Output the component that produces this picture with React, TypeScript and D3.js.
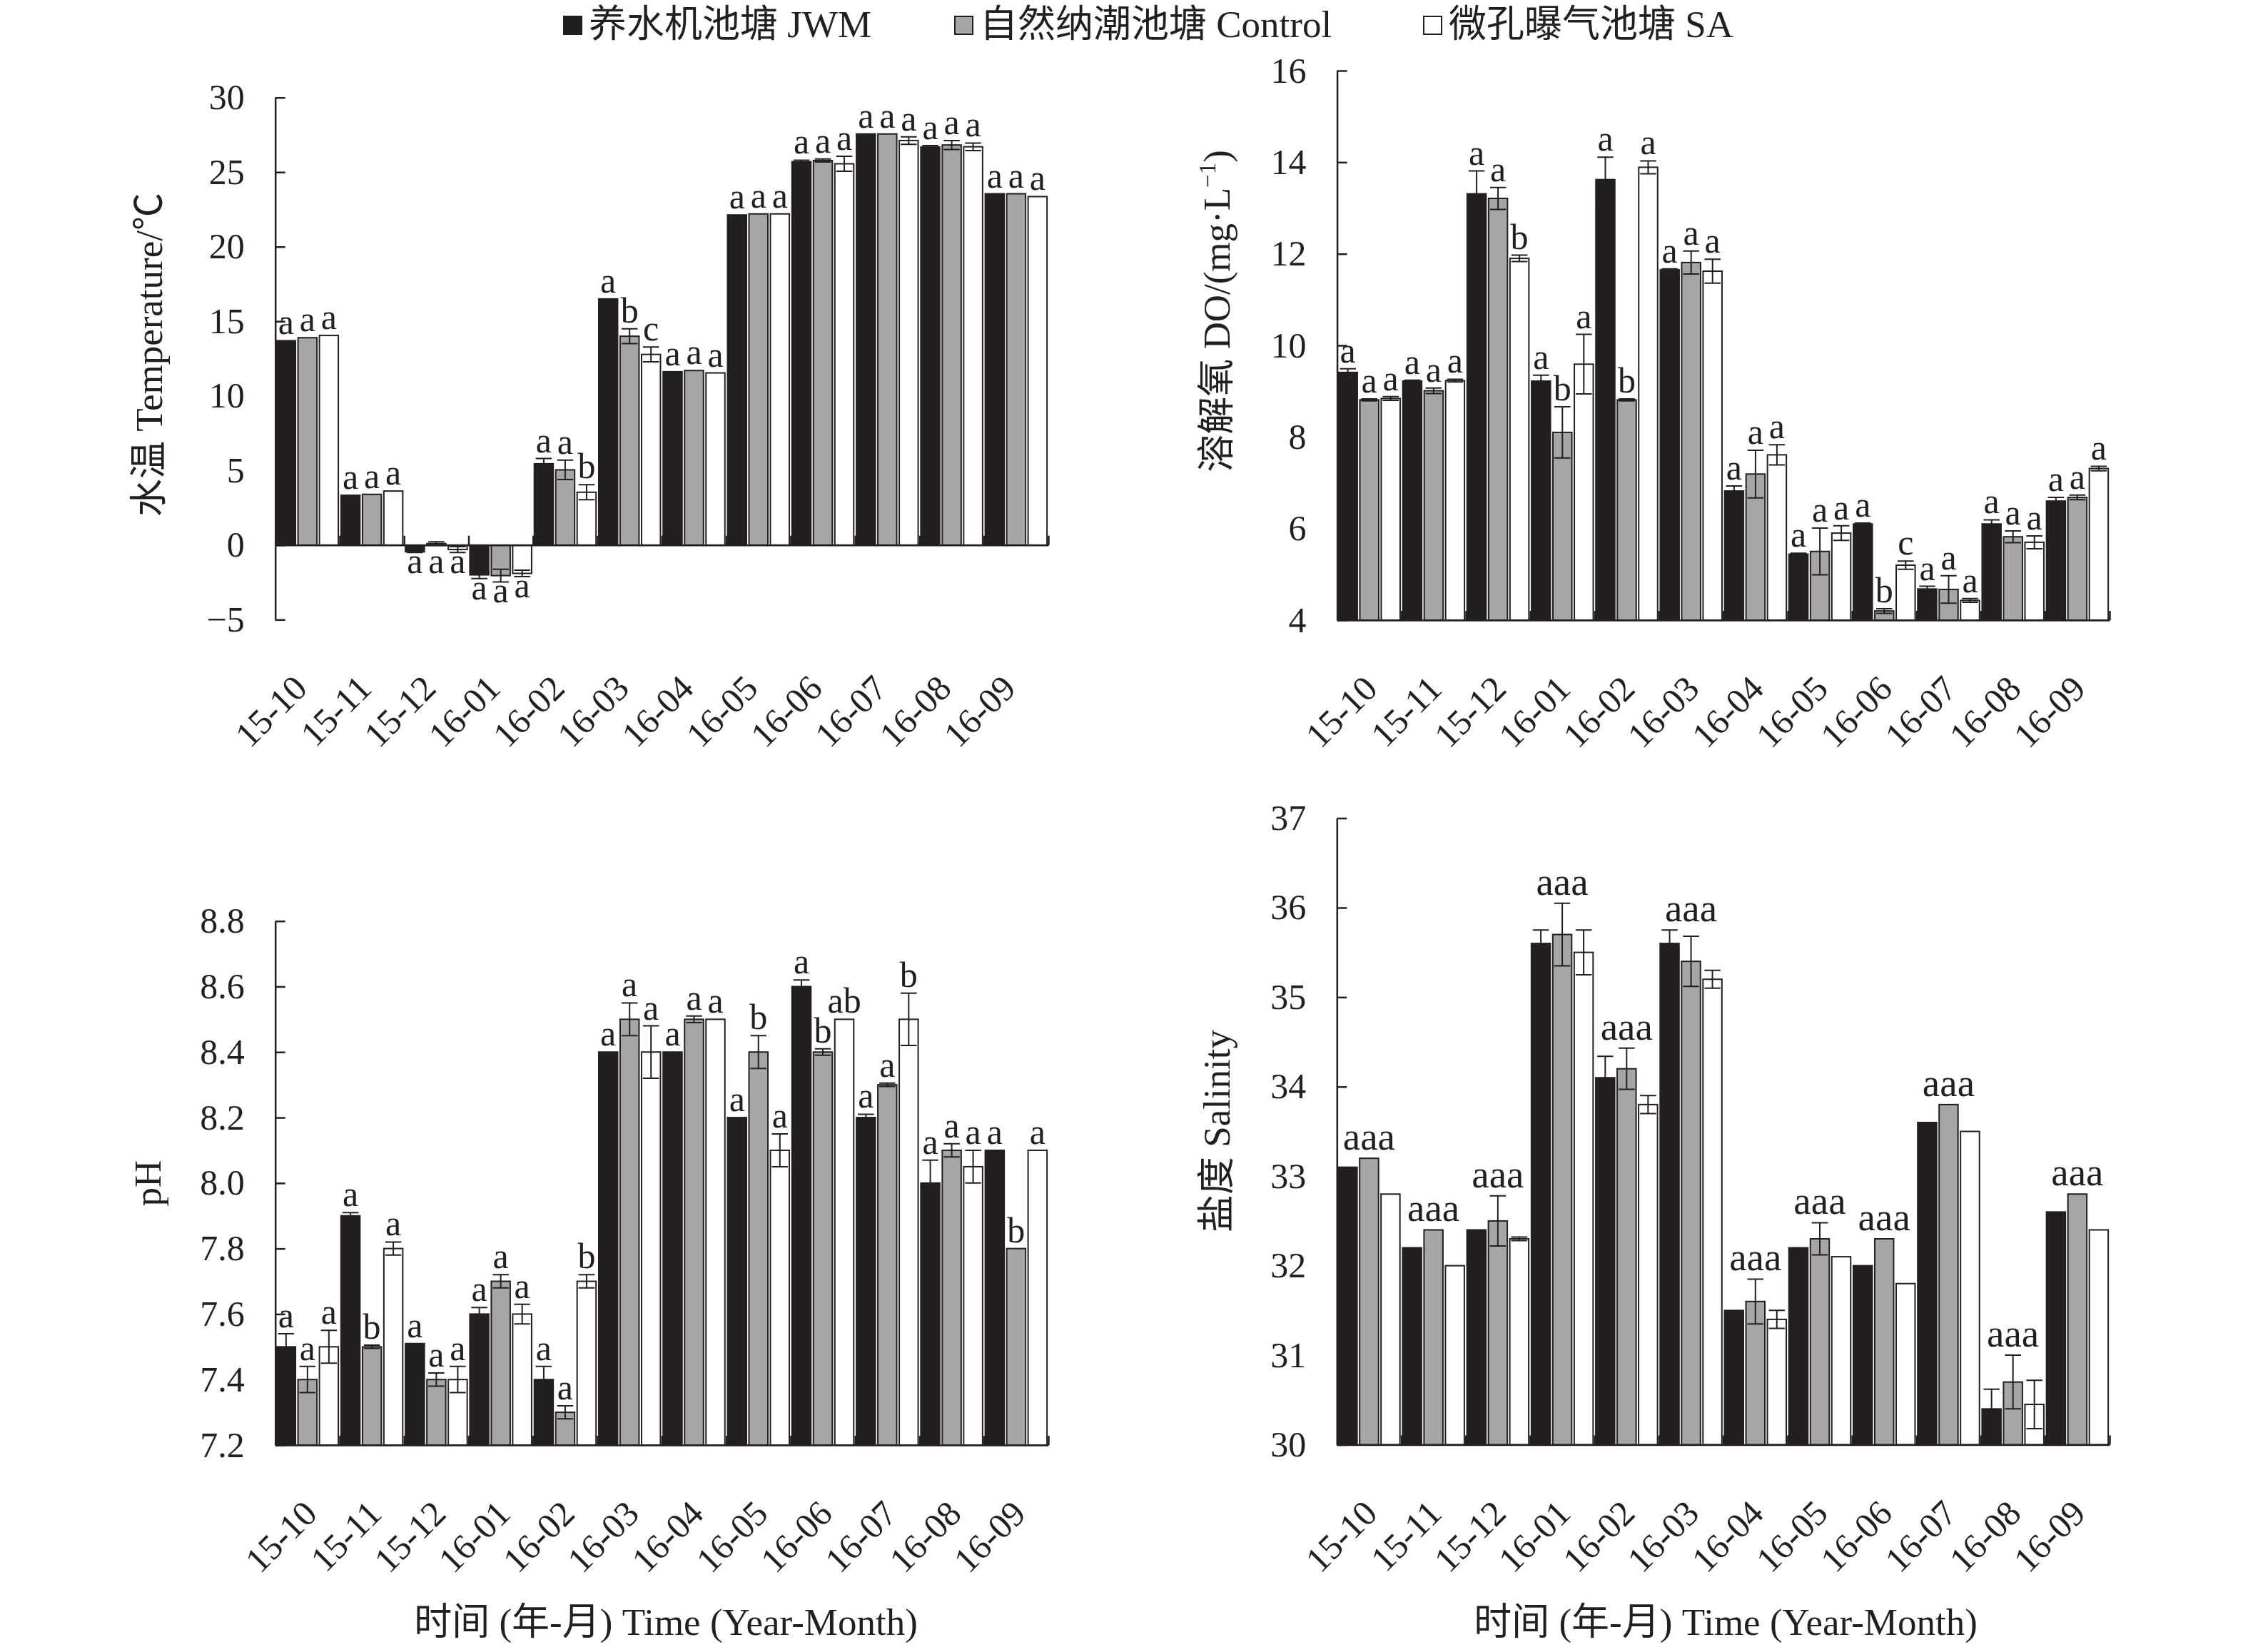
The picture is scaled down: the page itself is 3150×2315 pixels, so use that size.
import React, { useEffect, useRef } from 'react';
import * as d3 from 'd3';

const W = 3150;
const H = 2315;
const INK = '#231f20';
const FONT = "'Liberation Serif', 'Times New Roman', 'Noto Sans CJK SC', serif";

const MONTHS = ['15-10', '15-11', '15-12', '16-01', '16-02', '16-03', '16-04', '16-05', '16-06', '16-07', '16-08', '16-09'];
const SERIES = ['养水机池塘 JWM', '自然纳潮池塘 Control', '微孔曝气池塘 SA'];
const COLORS = ['#231f20', '#a7a5a6', '#ffffff'];

// water temperature (°C)
const tempJWM = [13.7, 3.34, -0.45, -2.0, 5.45, 16.5, 11.62, 22.13, 25.7, 27.56, 26.68, 23.55];
const tempControl = [13.9, 3.4, 0.1, -2.05, 5.04, 14.0, 11.7, 22.2, 25.78, 27.56, 26.82, 23.55];
const tempSA = [14.05, 3.62, -0.3, -1.9, 3.54, 12.78, 11.54, 22.2, 25.56, 27.12, 26.7, 23.36];
const tempErrJWM = [0, 0, 0.05, 0.25, 0.35, 0, 0, 0, 0.1, 0, 0.1, 0];
const tempErrControl = [0, 0, 0.12, 0.42, 0.65, 0.5, 0, 0, 0.1, 0, 0.3, 0];
const tempErrSA = [0, 0, 0.2, 0.22, 0.5, 0.5, 0, 0, 0.5, 0.25, 0.25, 0];
const tempLetJWM = ['a', 'a', 'a', 'a', 'a', 'a', 'a', 'a', 'a', 'a', 'a', 'a'];
const tempLetControl = ['a', 'a', 'a', 'a', 'a', 'b', 'a', 'a', 'a', 'a', 'a', 'a'];
const tempLetSA = ['a', 'a', 'a', 'a', 'b', 'c', 'a', 'a', 'a', 'a', 'a', 'a'];

// dissolved oxygen (mg/L)
const doJWM = [9.41, 9.22, 13.31, 9.22, 13.62, 11.65, 6.82, 5.44, 6.1, 4.68, 6.1, 6.6];
const doControl = [8.81, 9.01, 13.21, 8.1, 8.81, 11.81, 7.19, 5.5, 4.2, 4.67, 5.82, 6.68];
const doSA = [8.84, 9.23, 11.9, 9.59, 13.89, 11.62, 7.61, 5.9, 5.2, 4.43, 5.7, 7.31];
const doErrJWM = [0.08, 0.02, 0.5, 0.13, 0.49, 0.02, 0.11, 0.02, 0.02, 0.06, 0.09, 0.08];
const doErrControl = [0.02, 0.06, 0.24, 0.56, 0.02, 0.25, 0.52, 0.51, 0.05, 0.3, 0.13, 0.05];
const doErrSA = [0.04, 0.03, 0.07, 0.65, 0.14, 0.26, 0.22, 0.16, 0.09, 0.04, 0.14, 0.05];
const doLetJWM = ['a', 'a', 'a', 'a', 'a', 'a', 'a', 'a', 'a', 'a', 'a', 'a'];
const doLetControl = ['a', 'a', 'a', 'b', 'b', 'a', 'a', 'a', 'b', 'a', 'a', 'a'];
const doLetSA = ['a', 'a', 'b', 'a', 'a', 'a', 'a', 'a', 'c', 'a', 'a', 'a'];

// pH
const phJWM = [7.5, 7.9, 7.51, 7.6, 7.4, 8.4, 8.4, 8.2, 8.6, 8.2, 8.0, 8.1];
const phControl = [7.4, 7.5, 7.4, 7.7, 7.3, 8.5, 8.5, 8.4, 8.4, 8.3, 8.1, 7.8];
const phSA = [7.5, 7.8, 7.4, 7.6, 7.7, 8.4, 8.5, 8.1, 8.5, 8.5, 8.05, 8.1];
const phErrJWM = [0.04, 0.01, 0, 0.02, 0.04, 0, 0, 0, 0.02, 0.01, 0.07, 0];
const phErrControl = [0.04, 0.005, 0.02, 0.02, 0.02, 0.05, 0.01, 0.05, 0.01, 0.005, 0.02, 0];
const phErrSA = [0.05, 0.02, 0.04, 0.03, 0.02, 0.08, 0, 0.05, 0, 0.08, 0.05, 0];
const phLetJWM = ['a', 'a', 'a', 'a', 'a', 'a', 'a', 'a', 'a', 'a', 'a', 'a'];
const phLetControl = ['a', 'b', 'a', 'a', 'a', 'a', 'a', 'b', 'b', 'a', 'a', 'b'];
const phLetSA = ['a', 'a', 'a', 'a', 'b', 'a', 'a', 'a', 'ab', 'b', 'a', 'a'];

// salinity
const salJWM = [33.1, 32.2, 32.4, 35.6, 34.1, 35.6, 31.5, 32.2, 32.0, 33.6, 30.4, 32.6];
const salControl = [33.2, 32.4, 32.5, 35.7, 34.2, 35.4, 31.6, 32.3, 32.3, 33.8, 30.7, 32.8];
const salSA = [32.8, 32.0, 32.3, 35.5, 33.8, 35.2, 31.4, 32.1, 31.8, 33.5, 30.45, 32.4];
const salErrJWM = [0, 0, 0, 0.15, 0.24, 0.15, 0, 0, 0, 0, 0.22, 0];
const salErrControl = [0, 0, 0.28, 0.35, 0.23, 0.28, 0.25, 0.18, 0, 0, 0.3, 0];
const salErrSA = [0, 0, 0.02, 0.25, 0.1, 0.1, 0.1, 0, 0, 0, 0.27, 0];
const salLetJWM = ['a', 'a', 'a', 'a', 'a', 'a', 'a', 'a', 'a', 'a', 'a', 'a'];
const salLetControl = ['a', 'a', 'a', 'a', 'a', 'a', 'a', 'a', 'a', 'a', 'a', 'a'];
const salLetSA = ['a', 'a', 'a', 'a', 'a', 'a', 'a', 'a', 'a', 'a', 'a', 'a'];

const tempTicks = [-5, 0, 5, 10, 15, 20, 25, 30];
const doTicks = [4, 6, 8, 10, 12, 14, 16];
const phTicks = [7.2, 7.4, 7.6, 7.8, 8.0, 8.2, 8.4, 8.6, 8.8];
const salTicks = [30, 31, 32, 33, 34, 35, 36, 37];

interface Panel {
  values: number[][];
  errors: number[][];
  letters: string[][];
  ticks: number[];
  fmt: (v: number) => string;
  x0: number;
  x1: number;
  yTop: number;
  yBot: number;
  labelShift: number;
  groupLetters: boolean;
  title: 'temp' | 'do' | 'ph' | 'sal';
  titleX: number;
  titleY: number;
  xTitle?: { x: number; y: number };
}

const panels: Panel[] = [
  {
    values: [tempJWM, tempControl, tempSA],
    errors: [tempErrJWM, tempErrControl, tempErrSA],
    letters: [tempLetJWM, tempLetControl, tempLetSA],
    ticks: tempTicks,
    fmt: d3.format('d'),
    x0: 385.7, x1: 1469, yTop: 136.7, yBot: 868.3,
    labelShift: 2, groupLetters: false,
    title: 'temp', titleX: 227, titleY: 497,
  },
  {
    values: [doJWM, doControl, doSA],
    errors: [doErrJWM, doErrControl, doErrSA],
    letters: [doLetJWM, doLetControl, doLetSA],
    ticks: doTicks,
    fmt: d3.format('d'),
    x0: 1873.6, x1: 2956, yTop: 99, yBot: 869,
    labelShift: 14, groupLetters: false,
    title: 'do', titleX: 1723, titleY: 436,
  },
  {
    values: [phJWM, phControl, phSA],
    errors: [phErrJWM, phErrControl, phErrSA],
    letters: [phLetJWM, phLetControl, phLetSA],
    ticks: phTicks,
    fmt: d3.format('.1f'),
    x0: 385.7, x1: 1469, yTop: 1290.7, yBot: 2025,
    labelShift: 16, groupLetters: false,
    title: 'ph', titleX: 225, titleY: 1658,
    xTitle: { x: 933, y: 2291 },
  },
  {
    values: [salJWM, salControl, salSA],
    errors: [salErrJWM, salErrControl, salErrSA],
    letters: [salLetJWM, salLetControl, salLetSA],
    ticks: salTicks,
    fmt: d3.format('d'),
    x0: 1873.3, x1: 2956, yTop: 1146.5, yBot: 2024.5,
    labelShift: 14, groupLetters: true,
    title: 'sal', titleX: 1723, titleY: 1585,
    xTitle: { x: 2418, y: 2291 },
  },
];

type Sel = d3.Selection<SVGGElement, unknown, null, undefined>;

function drawPanel(g: Sel, p: Panel) {
  const min = p.ticks[0];
  const max = p.ticks[p.ticks.length - 1];
  const y = d3.scaleLinear().domain([min, max]).range([p.yBot, p.yTop]);
  const x = d3.scaleBand<string>().domain(MONTHS).range([p.x0, p.x1]);
  const inner = 86.5;
  const xs = d3
    .scaleBand<number>()
    .domain([0, 1, 2])
    .range([(x.bandwidth() - inner) / 2, (x.bandwidth() + inner) / 2])
    .paddingInner(0.117);
  const base = min < 0 ? 0 : min;

  const rows = MONTHS.flatMap((m, i) =>
    [0, 1, 2].map((s) => ({
      m,
      i,
      s,
      v: p.values[s][i],
      e: p.errors[s][i],
      l: p.letters[s][i],
      cx: (x(m) || 0) + (xs(s) || 0) + xs.bandwidth() / 2,
    }))
  );

  g.append('g')
    .selectAll('rect')
    .data(rows)
    .join('rect')
    .attr('x', (d) => d.cx - xs.bandwidth() / 2)
    .attr('width', xs.bandwidth())
    .attr('y', (d) => Math.min(y(d.v), y(base)))
    .attr('height', (d) => Math.abs(y(d.v) - y(base)))
    .attr('fill', (d) => COLORS[d.s])
    .attr('stroke', INK)
    .attr('stroke-width', 2);

  // error bars (mean ± SD)
  const cap = xs.bandwidth() * 0.85;
  g.append('g')
    .attr('stroke', INK)
    .attr('stroke-width', 2)
    .attr('fill', 'none')
    .selectAll('path')
    .data(rows.filter((d) => d.e > 0))
    .join('path')
    .attr('d', (d) => {
      const a = y(d.v + d.e);
      const b = y(d.v - d.e);
      return `M${d.cx},${a}V${b}M${d.cx - cap / 2},${a}H${d.cx + cap / 2}M${d.cx - cap / 2},${b}H${d.cx + cap / 2}`;
    });

  // y axis, ticks pointing inward
  const yAxis = g
    .append('g')
    .attr('transform', `translate(${p.x0},0)`)
    .call(d3.axisLeft(y).tickValues(p.ticks).tickFormat((v) => p.fmt(v as number)).tickSizeInner(-14).tickSizeOuter(0).tickPadding(43));
  yAxis.attr('font-family', FONT).attr('font-size', 50);
  yAxis.selectAll('text').attr('fill', INK);
  yAxis.selectAll('line').attr('stroke', INK).attr('stroke-width', 2.5);
  yAxis.select('.domain').attr('stroke', INK).attr('stroke-width', 2.5);

  // category axis with boundary ticks
  const xi = d3.scaleLinear().domain([0, MONTHS.length]).range([p.x0, p.x1]);
  const xAxis = g
    .append('g')
    .attr('transform', `translate(0,${y(base)})`)
    .call(d3.axisBottom(xi).tickValues(d3.range(1, MONTHS.length + 1)).tickFormat(() => '').tickSizeInner(-13).tickSizeOuter(0));
  xAxis.selectAll('line').attr('stroke', INK).attr('stroke-width', 2.5);
  xAxis.select('.domain').attr('stroke', INK).attr('stroke-width', 2.5);

  g.append('g')
    .attr('font-family', FONT)
    .attr('font-size', 50)
    .attr('fill', INK)
    .selectAll('text')
    .data(MONTHS)
    .join('text')
    .attr('text-anchor', 'end')
    .attr('transform', (m) => `translate(${(x(m) || 0) + x.bandwidth() / 2 + p.labelShift},${p.yBot + 99}) rotate(-45)`)
    .text((m) => m);

  // significance letters
  if (p.groupLetters) {
    const lg = g.append('g').attr('font-family', FONT).attr('font-size', 55).attr('fill', INK).attr('text-anchor', 'middle');
    MONTHS.forEach((m, i) => {
      const tops = [0, 1, 2].map((s) => y(p.values[s][i] + p.errors[s][i]));
      lg.append('text')
        .attr('x', (x(m) || 0) + x.bandwidth() / 2)
        .attr('y', Math.min(...tops) - 12)
        .text([0, 1, 2].map((s) => p.letters[s][i]).join(''));
    });
  } else {
    const lg = g.append('g').attr('font-family', FONT).attr('font-size', 50).attr('fill', INK).attr('text-anchor', 'middle');
    lg.selectAll('text')
      .data(rows)
      .join('text')
      .attr('x', (d) => d.cx)
      .attr('y', (d) => {
        const neg = [0, 1, 2].some((s) => p.values[s][d.i] < 0);
        if (neg) return Math.max(y(base) + 10, y(d.v - d.e)) + 29;
        return y(d.v + d.e) - 9;
      })
      .text((d) => d.l);
  }

  // axis titles
  const t = g
    .append('text')
    .attr('font-family', FONT)
    .attr('font-size', 53)
    .attr('fill', INK)
    .attr('text-anchor', 'middle')
    .attr('transform', `translate(${p.titleX},${p.titleY}) rotate(-90)`);
  if (p.title === 'temp') t.text('水温 Temperature/℃');
  if (p.title === 'ph') t.text('pH');
  if (p.title === 'sal') t.text('盐度 Salinity');
  if (p.title === 'do') {
    t.append('tspan').text('溶解氧 DO/(mg·L');
    t.append('tspan').attr('font-size', 33).attr('dy', -20).text('−1');
    t.append('tspan').attr('dy', 20).text(')');
  }

  if (p.xTitle) {
    g.append('text')
      .attr('font-family', FONT)
      .attr('font-size', 53)
      .attr('fill', INK)
      .attr('text-anchor', 'middle')
      .attr('x', p.xTitle.x)
      .attr('y', p.xTitle.y)
      .text('时间 (年-月) Time (Year-Month)');
  }
}

export default function App() {
  const svgRef = useRef<SVGSVGElement | null>(null);

  useEffect(() => {
    const svg = d3.select(svgRef.current!);
    svg.selectAll('*').remove();
    svg.append('rect').attr('width', W).attr('height', H).attr('fill', '#fff');

    // legend
    const legendX = [790, 1338, 1995];
    const lg = svg.append('g');
    SERIES.forEach((name, i) => {
      lg.append('rect')
        .attr('x', legendX[i])
        .attr('y', 23)
        .attr('width', 25)
        .attr('height', 25)
        .attr('fill', COLORS[i])
        .attr('stroke', INK)
        .attr('stroke-width', 2);
      lg.append('text')
        .attr('x', legendX[i] + 35)
        .attr('y', 52)
        .attr('font-family', FONT)
        .attr('font-size', 53)
        .attr('fill', INK)
        .text(name);
    });

    panels.forEach((p) => drawPanel(svg.append('g') as unknown as Sel, p));
  }, []);

  return (
    <svg
      ref={svgRef}
      width={W}
      height={H}
      style={{ position: 'absolute', left: 0, top: 0, display: 'block' }}
    />
  );
}
